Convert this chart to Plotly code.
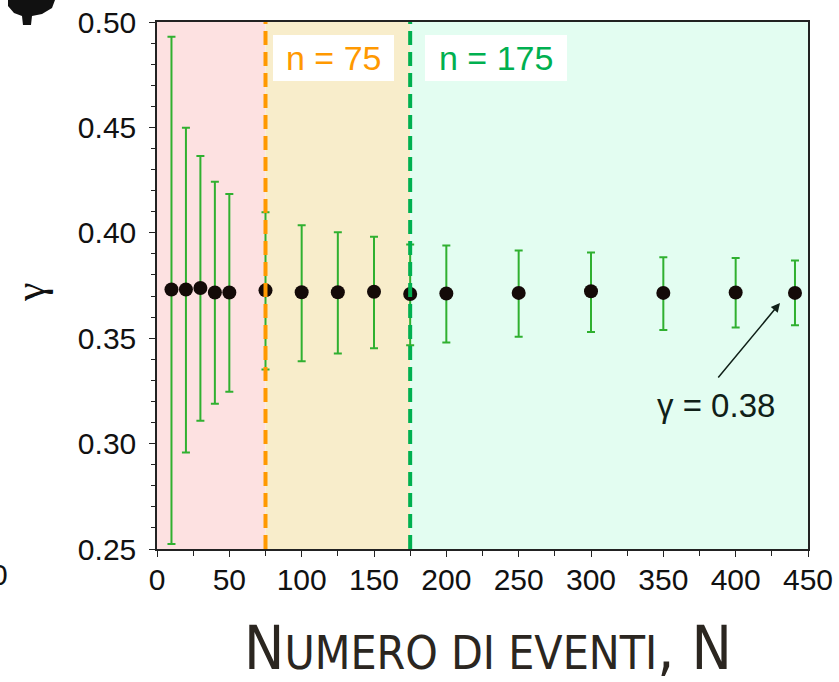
import plotly.graph_objects as go

# ---- data ----
N = [10, 20, 30, 40, 50, 75, 100, 125, 150, 175, 200, 250, 300, 350, 400, 441]
gamma = [0.3731, 0.3731, 0.3738, 0.3717, 0.3717, 0.3727, 0.3718, 0.3718,
         0.3720, 0.3710, 0.3712, 0.3715, 0.3723, 0.3715, 0.3717, 0.3715]
upper = [0.4930, 0.4498, 0.4364, 0.4242, 0.4184, 0.4097, 0.4036, 0.4003,
         0.3981, 0.3945, 0.3940, 0.3916, 0.3906, 0.3884, 0.3881, 0.3869]
lower = [0.2524, 0.2958, 0.3108, 0.3189, 0.3246, 0.3352, 0.3391, 0.3428,
         0.3452, 0.3467, 0.3480, 0.3507, 0.3529, 0.3539, 0.3551, 0.3561]
region_edges = [0, 75, 175, 450]
region_colors = ["#fde1e1", "#f8edcb", "#e3fdf1"]
threshold_n = [75, 175]
threshold_colors = ["#ff9900", "#00b050"]
threshold_labels = ["n = 75", "n = 175"]
y_ticks = [0.25, 0.30, 0.35, 0.40, 0.45, 0.50]
x_ticks = [0, 50, 100, 150, 200, 250, 300, 350, 400, 450]

W, H = 839, 682
L, R, T, B = 157, 31, 22, 133
PW, PH = W - L - R, H - T - B


def px(x):
    return (x - L) / PW


def py(y):
    return (H - B - y) / PH


err_plus = [u - g for u, g in zip(upper, gamma)]
err_minus = [g - l for g, l in zip(gamma, lower)]

fig = go.Figure()
fig.add_trace(go.Scatter(
    x=N, y=gamma, mode="markers",
    marker=dict(size=14, color="#140a08"),
    error_y=dict(type="data", symmetric=False, array=err_plus,
                 arrayminus=err_minus, color="#30b030", thickness=2, width=4),
    showlegend=False,
))

shapes = []
for i, c in enumerate(region_colors):
    shapes.append(dict(type="rect", xref="x", yref="y",
                       x0=region_edges[i], x1=region_edges[i + 1],
                       y0=0.25, y1=0.50, fillcolor=c, line_width=0, layer="below"))
for n, c in zip(threshold_n, threshold_colors):
    shapes.append(dict(type="line", xref="x", yref="y", x0=n, x1=n, y0=0.25, y1=0.50,
                       line=dict(color=c, width=4, dash="14px,7px"), layer="above"))
# white label boxes
shapes.append(dict(type="rect", xref="paper", yref="paper",
                   x0=px(273), x1=px(394), y0=py(81), y1=py(35),
                   fillcolor="white", line_width=0, layer="above"))
shapes.append(dict(type="rect", xref="paper", yref="paper",
                   x0=px(425), x1=px(567), y0=py(81), y1=py(35),
                   fillcolor="white", line_width=0, layer="above"))
# cropped dark blob at top-left (fragment in the reference)
blob = [(8, 0), (55, 0), (52, 8), (42, 14), (32, 16), (31, 25), (23, 25), (22, 16),
        (14, 13), (8, 6)]
path = "M " + " L ".join(f"{px(a):.5f},{py(b):.5f}" for a, b in blob) + " Z"
shapes.append(dict(type="path", xref="paper", yref="paper", path=path,
                   fillcolor="#111111", line_width=0))


def ann(x, y, text, **kw):
    d = dict(x=px(x), y=py(y), xref="paper", yref="paper", text=text,
             showarrow=False, xanchor="center", yanchor="middle")
    d.update(kw)
    return d


annotations = [
    ann(333.5, 58, threshold_labels[0],
        font=dict(family="Liberation Sans, Arial", size=34, color=threshold_colors[0])),
    ann(496, 58, threshold_labels[1],
        font=dict(family="Liberation Sans, Arial", size=34, color=threshold_colors[1])),
    ann(716, 405, "γ = 0.38",
        font=dict(family="Liberation Sans, Arial", size=33, color="#102018")),
    dict(x=px(780), y=py(303), xref="paper", yref="paper", text="",
         showarrow=True, ax=-63, ay=76, arrowhead=2, arrowsize=1.2, arrowwidth=1.5,
         arrowcolor="#102018"),
    ann(30, 292, "γ", textangle=-90,
        font=dict(family="Liberation Serif", size=42, color="#111")),
    ann(10, 574, "0", xanchor="right",
        font=dict(family="Liberation Sans, Arial", size=30, color="#111")),
    ann(488, 648,
        "<span style='font-size:60px'>N</span>UMERO DI EVENTI<span style='font-size:60px'>, N</span>",
        font=dict(family="DejaVu Sans Condensed, DejaVu Sans", size=46, color="#2b2620")),
]

fig.update_layout(
    width=W, height=H,
    margin=dict(l=L, r=R, t=T, b=B, autoexpand=False),
    paper_bgcolor="white", plot_bgcolor="white",
    shapes=shapes, annotations=annotations,
    xaxis=dict(range=[0, 450], tickvals=x_ticks, ticks="outside", ticklen=6,
               tickwidth=1.2, tickcolor="#222", showgrid=False, zeroline=False,
               showline=True, linecolor="#222", linewidth=1.5, mirror=True,
               automargin=False, ticklabelstandoff=-3,
               tickfont=dict(family="Liberation Sans, Arial", size=30, color="#111"),
               minor=dict(dtick=25, ticks="outside", ticklen=5, tickcolor="#222")),
    yaxis=dict(range=[0.25, 0.50], tickvals=y_ticks, tickformat=".2f",
               ticks="outside", ticklen=6, tickwidth=1.2, tickcolor="#222",
               showgrid=False, zeroline=False, showline=True, linecolor="#222",
               linewidth=1.5, mirror=True, automargin=False, ticklabelstandoff=7,
               tickfont=dict(family="Liberation Sans, Arial", size=30, color="#111"),
               minor=dict(dtick=0.01, ticks="outside", ticklen=4, tickcolor="#222")),
)

fig.write_html("out.html")
